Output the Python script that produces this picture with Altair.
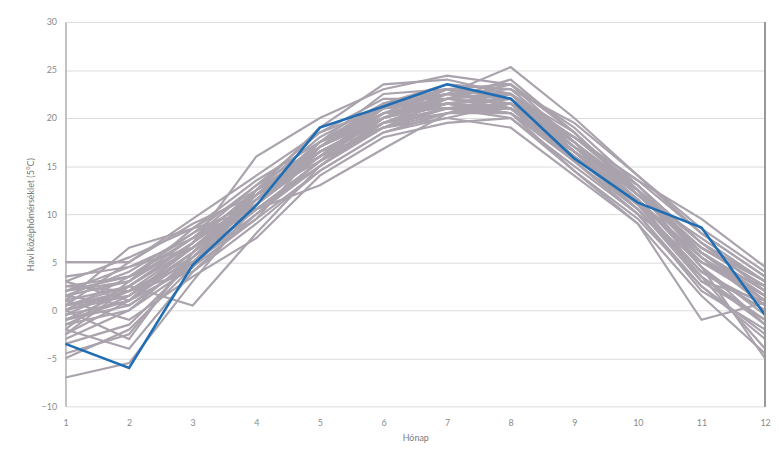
import altair as alt
import pandas as pd

months = list(range(1, 13))

gray_series = [
    [5.0, 5.0, 9.0, 12.0, 17.0, 21.0, 22.5, 22.0, 17.5, 12.0, 6.0, 2.0],
    [-7.0, -5.5, 3.0, 11.0, 16.5, 20.0, 21.5, 21.0, 16.0, 11.0, 4.0, 0.0],
    [0.5, 2.5, 0.5, 8.0, 15.0, 19.5, 21.0, 20.5, 16.5, 12.5, 5.5, 1.5],
    [2.0, 3.0, 7.0, 16.0, 20.0, 23.0, 24.4, 23.5, 19.0, 13.0, 7.0, 3.0],
    [-1.0, 0.5, 5.0, 10.5, 13.0, 16.8, 20.5, 21.0, 15.5, 10.5, 3.0, -1.0],
    [1.0, 6.5, 8.5, 12.5, 19.0, 23.5, 24.0, 22.5, 18.0, 13.5, 9.5, 4.5],
    [3.0, 1.0, 6.0, 11.5, 17.5, 21.5, 22.5, 25.3, 20.0, 14.0, 8.0, 3.5],
    [-2.0, -4.0, 4.0, 10.0, 15.0, 19.0, 20.0, 19.0, 14.0, 9.0, -1.0, 0.8],
    [0.0, 3.5, 7.5, 11.0, 16.0, 20.5, 21.5, 22.0, 17.0, 11.5, 4.5, -5.0],
    [-4.5, -2.5, 5.5, 12.0, 17.5, 20.0, 22.5, 21.5, 16.5, 11.0, 3.5, -4.0],
    [1.5, 4.0, 8.0, 13.0, 17.0, 20.5, 23.0, 22.5, 18.5, 12.0, 6.5, 2.5],
    [-1.5, 1.5, 6.5, 11.0, 16.5, 19.5, 21.0, 20.0, 15.0, 10.0, 2.0, -2.0],
    [2.5, 2.0, 5.0, 9.5, 14.5, 18.5, 20.5, 20.5, 16.0, 11.5, 5.0, 1.0],
    [-3.0, 0.0, 4.5, 12.5, 18.0, 21.5, 23.5, 23.0, 17.5, 12.0, 7.5, 3.0],
    [0.5, 5.0, 9.5, 14.0, 18.5, 22.0, 22.0, 21.0, 16.5, 10.5, 4.0, 0.5],
    [1.0, -1.0, 3.5, 7.5, 14.0, 18.0, 19.5, 20.0, 14.5, 9.5, 2.5, -3.0],
    [-0.5, 2.5, 7.0, 11.5, 16.0, 21.0, 21.5, 22.5, 17.0, 13.0, 6.0, 1.5],
    [3.5, 4.5, 6.5, 10.5, 15.5, 19.5, 22.0, 21.5, 18.0, 12.5, 7.0, 2.0],
    [-2.5, 1.0, 5.5, 11.5, 17.0, 20.5, 21.0, 21.0, 16.0, 11.0, 5.5, 0.5],
    [0.0, -3.0, 6.0, 12.0, 16.5, 19.0, 22.0, 24.0, 18.5, 12.5, 4.5, -1.5],
    [1.5, 3.0, 8.5, 13.5, 17.5, 22.5, 23.0, 22.0, 17.0, 11.5, 3.0, 1.0],
    [-1.0, 2.0, 4.0, 9.0, 14.5, 18.5, 20.0, 21.5, 15.5, 10.0, 5.0, 2.5],
    [2.0, 4.5, 7.5, 12.0, 16.0, 20.0, 22.5, 23.0, 19.5, 14.0, 8.5, 4.0],
    [-3.5, -1.5, 5.0, 10.0, 15.5, 20.5, 21.5, 20.5, 14.5, 9.0, 1.5, -4.5],
    [0.5, 1.5, 6.0, 11.0, 17.5, 21.0, 22.0, 23.5, 17.5, 12.0, 6.0, 2.0],
    [1.0, 2.5, 7.0, 12.5, 16.5, 19.5, 21.5, 22.0, 16.5, 11.0, 4.0, 0.0],
    [-1.5, 0.0, 5.5, 10.5, 15.0, 20.0, 22.5, 21.5, 17.0, 12.5, 5.5, 1.0],
    [2.5, 3.5, 8.0, 11.5, 17.0, 21.5, 23.0, 21.0, 18.0, 13.0, 7.0, 3.0],
    [-0.5, 1.0, 4.5, 11.0, 16.0, 19.0, 21.0, 22.0, 16.0, 10.5, 3.5, -1.0],
    [0.0, 2.0, 6.5, 12.0, 17.5, 20.5, 22.0, 22.5, 17.5, 11.5, 5.0, 1.5],
    [-2.0, 3.0, 7.5, 13.0, 18.5, 21.0, 23.0, 23.5, 18.5, 12.0, 6.5, 2.5],
    [1.5, 0.5, 5.0, 11.5, 16.5, 20.0, 21.5, 21.0, 16.5, 11.5, 4.5, -0.5],
    [3.0, 5.5, 8.5, 10.5, 15.0, 19.5, 20.5, 22.5, 17.0, 12.0, 6.0, 1.0],
    [-5.0, -2.0, 4.5, 9.5, 17.0, 21.5, 22.5, 22.0, 18.0, 13.5, 8.0, 3.5],
    [0.0, 1.5, 6.0, 12.5, 16.0, 20.5, 21.5, 20.5, 15.5, 10.0, 2.5, -2.5],
    [2.0, 3.5, 6.5, 12.0, 15.5, 19.0, 20.5, 21.5, 17.5, 12.5, 6.0, 1.5],
    [-1.0, 1.0, 7.0, 12.5, 17.0, 20.0, 22.0, 22.5, 16.5, 11.5, 5.5, 0.5],
    [0.5, 2.0, 5.5, 10.5, 15.5, 21.5, 21.0, 21.5, 17.5, 11.0, 3.5, -1.5],
    [-2.5, 2.5, 6.5, 11.5, 17.0, 20.0, 23.0, 22.5, 16.5, 12.5, 6.5, 3.0],
]

blue_series = [-3.5, -6.0, 4.7, 10.9, 19.0, 21.2, 23.5, 22.0, 15.8, 11.2, 8.6, -0.5]

y_ticks = [-10, -5, 0, 5, 10, 15, 20, 25, 30]

rows = []
for i, s in enumerate(gray_series):
    for m, v in zip(months, s):
        rows.append({"series": f"s{i+1}", "month": m, "temp": v})
gray_df = pd.DataFrame(rows)
blue_df = pd.DataFrame({"month": months, "temp": blue_series})

FONT = "Lato"

x_enc = alt.X("month:Q",
              scale=alt.Scale(domain=[1, 12], nice=False, zero=False),
              axis=alt.Axis(values=months, format="d", title="Hónap", grid=False,
                            domain=False, ticks=False, labelFlush=False,
                            labelPadding=12, titlePadding=6,
                            labelFontSize=9, titleFontSize=9, labelColor="#8a8a8a",
                            titleColor="#7a7a7a", labelFont=FONT, titleFont=FONT,
                            titleFontWeight="normal"))
y_enc = alt.Y("temp:Q",
              scale=alt.Scale(domain=[-10, 30], nice=False, zero=False),
              axis=alt.Axis(values=y_ticks, title="Havi középhőmérséklet (5°C)",
                            grid=True, gridColor="#dcdcdc", gridWidth=1,
                            domain=True, domainColor="#9a9a9a", domainWidth=1.2,
                            ticks=False, labelPadding=9, labelFlush=False,
                            labelFontSize=9, titleFontSize=9, labelColor="#8a8a8a",
                            titleColor="#7a7a7a", labelFont=FONT, titleFont=FONT,
                            titleFontWeight="normal", titleX=-30, titleY=194))

gray = alt.Chart(gray_df).mark_line(color="#aaa3ad", strokeWidth=2.2).encode(
    x=x_enc, y=y_enc, detail="series:N")

blue = alt.Chart(blue_df).mark_line(color="#1f6db3", strokeWidth=2.6).encode(
    x="month:Q", y="temp:Q")

right_rule = alt.Chart(blue_df).mark_rule(color="#9a9a9a", strokeWidth=1.2).encode(
    x=alt.datum(12))

chart = alt.layer(gray, blue, right_rule).properties(
    width=706, height=388,
    autosize=alt.AutoSizeParams(type="none"),
    padding={"left": 58, "top": 12, "right": 6, "bottom": 40},
).configure_view(stroke=None)

chart.save("out.html", embed_options={"renderer": "svg", "actions": False})
